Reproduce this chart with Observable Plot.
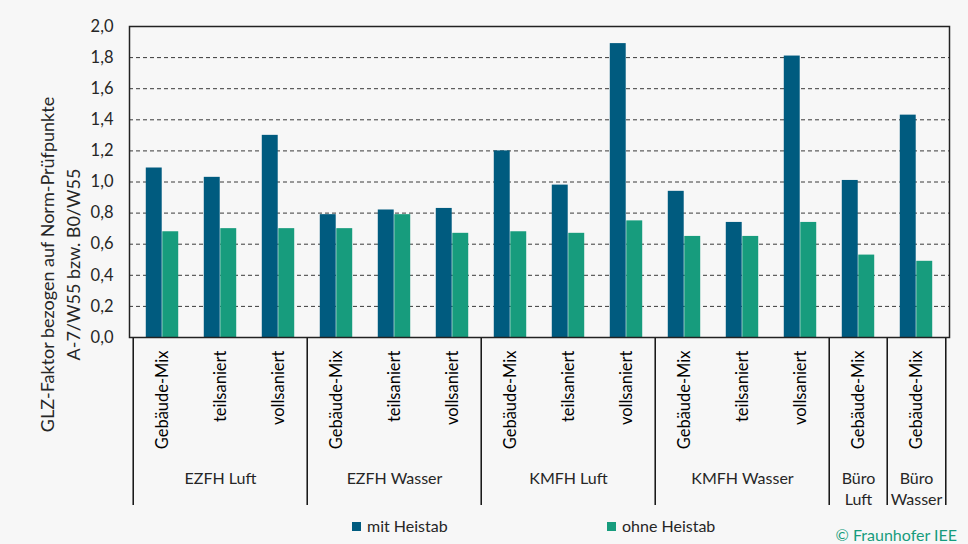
<!DOCTYPE html>
<html>
<head>
<meta charset="utf-8">
<script src="https://cdn.jsdelivr.net/npm/d3@7"></script>
<script src="https://cdn.jsdelivr.net/npm/@observablehq/plot@0.6"></script>
<style>
  html, body { margin: 0; padding: 0; background: #f7f7f7; }
  #wrap { position: relative; width: 968px; height: 544px; overflow: hidden; font-family: Lato, "Open Sans", sans-serif; color: #262626; }
  #chart svg { display: block; }
  .lg-sw { position: absolute; width: 9px; height: 9px; top: 522px; }
  .lg-tx { position: absolute; top: 517px; font-size: 16px; line-height: 18px; white-space: nowrap; }
  #credit { position: absolute; right: 11px; top: 527px; font-size: 16px; line-height: 16px; color: #179c7d; white-space: nowrap; }
</style>
</head>
<body>
<div id="wrap">
  <div id="chart"></div>
  <div id="legend"></div>
  <div id="credit"></div>
</div>
<script>
// ---- data ----
const groups = ["EZFH Luft", "EZFH Wasser", "KMFH Luft", "KMFH Wasser", "Büro Luft", "Büro Wasser"];
const groupLabels = ["EZFH Luft", "EZFH Wasser", "KMFH Luft", "KMFH Wasser", "Büro\nLuft", "Büro\nWasser"];
const subcategories = [
  ["Gebäude-Mix", "teilsaniert", "vollsaniert"],
  ["Gebäude-Mix", "teilsaniert", "vollsaniert"],
  ["Gebäude-Mix", "teilsaniert", "vollsaniert"],
  ["Gebäude-Mix", "teilsaniert", "vollsaniert"],
  ["Gebäude-Mix"],
  ["Gebäude-Mix"]
];
const mitHeistab  = [1.09, 1.03, 1.30, 0.79, 0.82, 0.83, 1.20, 0.98, 1.89, 0.94, 0.74, 1.81, 1.01, 1.43];
const ohneHeistab = [0.68, 0.70, 0.70, 0.70, 0.79, 0.67, 0.68, 0.67, 0.75, 0.65, 0.65, 0.74, 0.53, 0.49];
const seriesNames = ["mit Heistab", "ohne Heistab"];
const seriesColors = ["#005b7f", "#179c7d"];
const yTicks = [0, 0.2, 0.4, 0.6, 0.8, 1.0, 1.2, 1.4, 1.6, 1.8, 2.0];
const yTitle = "GLZ-Faktor bezogen auf Norm-Prüfpunkte\nA-7/W55 bzw. B0/W55";
const credit = "© Fraunhofer IEE";

// ---- build tables ----
const rows = [];
const groupRows = [];
const groupStarts = [];
const groupEnds = [];
let k = 0;
groups.forEach((g, gi) => {
  const subs = subcategories[gi];
  const keys = subs.map(s => g + "|" + s);
  subs.forEach((s, si) => {
    rows.push({key: keys[si], group: g, sub: s, mit: mitHeistab[k], ohne: ohneHeistab[k]});
    k++;
  });
  groupRows.push({key: keys[Math.floor((keys.length - 1) / 2)], label: groupLabels[gi]});
  groupStarts.push(keys[0]);
  groupEnds.push(keys[keys.length - 1]);
});

// ---- layout constants ----
const W = 968, H = 512, mL = 129, mR = 19, mT = 26, mB = 175;
const frameH = H - mT - mB;
const step = (W - mL - mR) / rows.length;
const barW = 16.5;
const pad = step / 2 - barW;
const fmt = v => d3.format(".1f")(v).replace(".", ",");

const chart = Plot.plot({
  width: W, height: H,
  marginLeft: mL, marginRight: mR, marginTop: mT, marginBottom: mB,
  style: {background: "transparent", fontFamily: "Lato, 'Open Sans', sans-serif", fontSize: "16px", color: "#262626"},
  x: {type: "band", domain: rows.map(d => d.key), padding: 0, axis: null},
  y: {domain: [0, 2], axis: null},
  marks: [
    Plot.gridY(yTicks.slice(1), {stroke: "#3a3a3a", strokeOpacity: 1, strokeWidth: 1, strokeDasharray: "4,3"}),
    Plot.barY(rows, {x: "key", y: "mit", fill: seriesColors[0], insetLeft: pad, insetRight: step / 2}),
    Plot.barY(rows, {x: "key", y: "ohne", fill: seriesColors[1], insetLeft: step / 2, insetRight: pad}),
    Plot.axisY(yTicks, {tickFormat: fmt, tickSize: 0, tickPadding: 16, fontSize: 16.5, fill: "#262626"}),
    Plot.text(rows, {x: "key", text: "sub", frameAnchor: "bottom", rotate: -90, textAnchor: "end", lineAnchor: "middle", dy: 13, fontSize: 16.5, fill: "#000"}),
    Plot.text(groupRows, {x: "key", text: "label", frameAnchor: "bottom", lineAnchor: "top", dy: 131.6, lineHeight: 1.3, fontSize: 16, fill: "#262626"}),
    // group separators: left edge of each group's first band, and the right edge of the last band
    Plot.ruleX(groupStarts, {x: d => d, dx: -step / 2, stroke: "#111", strokeWidth: 1.5, insetTop: frameH, insetBottom: -168}),
    Plot.ruleX(groupEnds.slice(-1), {x: d => d, dx: step / 2, stroke: "#111", strokeWidth: 1.5, insetTop: frameH, insetBottom: -168}),
    Plot.frame({stroke: "#222", strokeWidth: 1.5}),
    Plot.text([yTitle], {frameAnchor: "left", dx: -71, dy: 82.5, rotate: -90, textAnchor: "middle", lineAnchor: "middle", lineHeight: 1.45, fontSize: 18, fill: "#262626"})
  ]
});
document.getElementById("chart").appendChild(chart);

// ---- legend ----
const legendX = [352, 607];
const legend = document.getElementById("legend");
seriesNames.forEach((name, i) => {
  const sw = document.createElement("div");
  sw.className = "lg-sw";
  sw.style.left = legendX[i] + "px";
  sw.style.background = seriesColors[i];
  const tx = document.createElement("div");
  tx.className = "lg-tx";
  tx.style.left = (legendX[i] + 15) + "px";
  tx.textContent = name;
  legend.appendChild(sw);
  legend.appendChild(tx);
});
document.getElementById("credit").textContent = credit;
</script>
</body>
</html>
